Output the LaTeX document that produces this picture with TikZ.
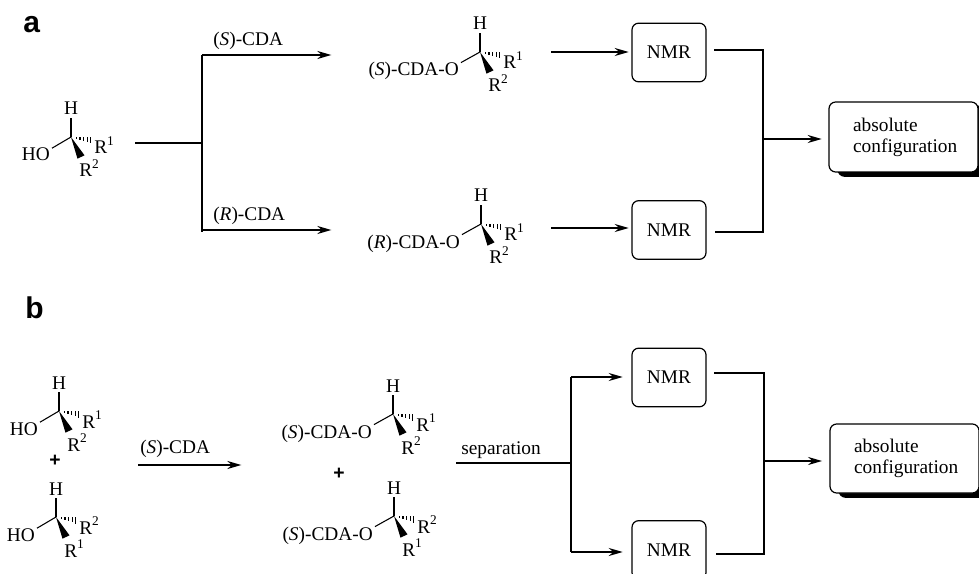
\documentclass[tikz,border=0pt]{standalone}
\usepackage{fontspec}
\setmainfont{Liberation Serif}
\setsansfont{Liberation Sans}
\usepackage{tikz}
\usetikzlibrary{arrows.meta,shadows}

\newcommand{\rsup}[1]{\raisebox{6.5pt}{\fontsize{10pt}{10pt}\selectfont #1}}
\newcommand{\rname}[1]{R\rsup{#1}}
\newcommand{\sform}{(\textit{S})-CDA}
\newcommand{\rform}{(\textit{R})-CDA}

% stereocentre: name, x, y, left group, hashed group, wedged group
\newcommand{\stereo}[6]{%
  \begin{scope}[shift={(#2,#3)}]
    \coordinate (#1c) at (0,0);
    \coordinate (#1w) at (10,20);
    \node[atom] (#1h) at (0,-22) {H};
    \node[atom, anchor=base east] (#1o) at (-21,24) {#4};
    \node[atom, anchor=base west] (#1b) at (23,17) {\rname{#5}};
    \node[atom, anchor=base west] (#1a) at (8,40) {\rname{#6}};
    \draw[bond] (#1c) -- ([yshift=-2.2pt]#1h.south);
    \draw[bond] (#1c) -- ([shift={(1.5pt,-0.2pt)}]#1o.north east);
    \fill (#1c) -- ([shift={(-3.5,1.7)}]#1w) -- ([shift={(3.5,-1.7)}]#1w) -- cycle;
    \foreach \t/\h in {0.3/0.8, 0.5/1.4, 0.7/2.0, 0.9/2.6, 1.1/3.2}
      \draw[bond] ({\t*18},{\t*3-\h}) -- ({\t*18},{\t*3+\h});
  \end{scope}}

\tikzset{
  atom/.style={inner sep=0pt, anchor=base},
  bond/.style={line width=0.8pt},
  flowline/.style={line width=1.5pt},
  flowarrow/.style={line width=1.5pt, -{Stealth[length=10.5pt,width=6pt]}, shorten >=2pt},
  nmrbox/.style={draw, line width=0.9pt, rounded corners=5pt, minimum width=55.5pt, minimum height=44pt, inner sep=0pt},
  resultbox/.style={draw, fill=white, line width=0.9pt, rounded corners=5pt, minimum width=111.75pt, inner sep=0pt, align=left,
    general shadow={fill=black, draw=black, shadow xshift=6.75pt, shadow yshift=-3.2pt}},
  flowlabel/.style={inner sep=0pt, anchor=base west},
  partlabel/.style={inner sep=0pt, anchor=base west, font=\sffamily\bfseries\fontsize{22.5pt}{24pt}\selectfont},
  plussign/.style={inner sep=0pt, font=\sffamily\bfseries\fontsize{14.5pt}{15pt}\selectfont}
}

\begin{document}
\begin{tikzpicture}[x=0.75pt, y=-0.75pt, every node/.append style={font=\fontsize{14.5pt}{15.75pt}\selectfont}]
    \useasboundingbox (0,0) rectangle (979,574);
    \clip (0,0) rectangle (979,574);

    % Part a
    \node[partlabel] (parta) at (23,33) {a};
    \stereo{alc}{71}{137}{HO}{1}{2}
    \stereo{est}{480}{52}{\sform-O}{1}{2}
    \stereo{erc}{481}{224}{\rform-O}{1}{2}

    \node[nmrbox] (nmrA) at (669,52.5) {NMR};
    \node[nmrbox] (nmrB) at (669,230) {NMR};
    \node[resultbox, minimum height=52.5pt] (resA) at (903.5,137) {\hspace*{2.6pt}absolute\\\hspace*{2.6pt}configuration};

    \coordinate (startA) at (135,143);
    \coordinate (forkA) at (202,143);
    \coordinate (forkAtop) at (202,55);
    \coordinate (forkAbot) at (202,232);
    \coordinate (forkAlow) at (202,230);
    \coordinate (endAtop) at (334,55);
    \coordinate (endAbot) at (334,230);
    \coordinate (inA) at (551,52);
    \coordinate (inB) at (551,228);
    \coordinate (outA) at (714,50);
    \coordinate (outB) at (715,232);
    \coordinate (joinAtop) at (763,50);
    \coordinate (joinAbot) at (763,232);
    \coordinate (joinA) at (763,139);

    \draw[flowline] (startA) -- (forkA);
    \draw[flowline] (forkAtop) -- (forkAbot);
    \draw[flowarrow] (forkAtop) -- (endAtop);
    \draw[flowarrow] (forkAlow) -- (endAbot);
    \draw[flowarrow] (inA) -- (inA -| nmrA.west);
    \draw[flowarrow] (inB) -- (inB -| nmrB.west);
    \draw[flowline] (outA) -- (joinAtop) -- (joinAbot) -- (outB);
    \draw[flowarrow, shorten >=5pt] (joinA) -- (joinA -| resA.west);

    \node[flowlabel] (sA) at (213,46) {\sform};
    \node[flowlabel] (rA) at (213,221) {\rform};

    % Part b
    \node[partlabel] (partb) at (25,318) {b};
    \stereo{mixa}{59}{411}{HO}{1}{2}
    \stereo{mixb}{56}{517}{HO}{2}{1}
    \stereo{dia}{393}{414}{\sform-O}{1}{2}
    \stereo{dib}{394}{516}{\sform-O}{2}{1}
    \node[plussign] (plusL) at (55,461) {+};
    \node[plussign] (plusR) at (339,474) {+};

    \node[nmrbox] (nmrC) at (669,377.5) {NMR};
    \node[nmrbox] (nmrD) at (669,550) {NMR};
    \node[resultbox, minimum height=51.75pt] (resB) at (904.5,458.5) {\hspace*{2.6pt}absolute\\\hspace*{2.6pt}configuration};

    \coordinate (startB) at (138,465);
    \coordinate (endB) at (244,465);
    \coordinate (sepB) at (456,463);
    \coordinate (forkB) at (571,463);
    \coordinate (forkBtop) at (571,377);
    \coordinate (forkBbot) at (571,552);
    \coordinate (outC) at (714,373);
    \coordinate (outD) at (716,554);
    \coordinate (joinBtop) at (764,373);
    \coordinate (joinBbot) at (764,554);
    \coordinate (joinB) at (764,461);

    \draw[flowarrow] (startB) -- (endB);
    \draw[flowline] (sepB) -- (forkB);
    \draw[flowarrow, shorten >=6.5pt] (forkBtop -| forkB) -- (forkBtop -| nmrC.west);
    \draw[flowarrow, shorten >=6.5pt] (forkBbot -| forkB) -- (forkBbot -| nmrD.west);
    \draw[flowline] (forkBtop) -- (forkBbot);
    \draw[flowline] (outC) -- (joinBtop) -- (joinBbot) -- (outD);
    \draw[flowarrow, shorten >=5.5pt] (joinB) -- (joinB -| resB.west);

    \node[flowlabel] (sB) at (140,453) {\sform};
    \node[flowlabel] (sepL) at (461,454) {separation};
\end{tikzpicture}
\end{document}
